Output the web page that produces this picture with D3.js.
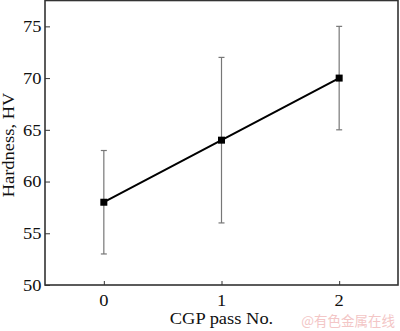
<!DOCTYPE html>
<html>
<head>
<meta charset="utf-8">
<script src="https://cdn.jsdelivr.net/npm/d3@7"></script>
<style>
  html, body { margin: 0; padding: 0; background: #fff; }
  svg { display: block; }
</style>
</head>
<body>
<svg id="chart" width="400" height="331"></svg>
<script>
// CGP pass number vs. hardness (mean with min/max error range)
const passes = [0, 1, 2];
const hardness = [58, 64, 70];
const errLow = [53, 56, 65];
const errHigh = [63, 72, 75];
const yTicks = [50, 55, 60, 65, 70, 75];
const xTicks = [0, 1, 2];

const svg = d3.select("#chart");
const plotL = 45, plotR = 398, plotT = 0.5, plotB = 285;
const font = "'Liberation Serif', 'Times New Roman', serif";
const fs = 16.5;       // label font size
const stretch = 1.12;  // slightly wide serif glyphs

const x = d3.scaleLinear().domain([-0.5, 2.5]).range([plotL, plotR]);
const y = d3.scaleLinear().domain([50, 77.5]).range([plotB, plotT]);

// place a serif label at (px, py), horizontally widened
function label(px, py, txt, anchor, rotate) {
  return svg.append("text")
    .attr("transform", `translate(${px},${py})` + (rotate ? ` rotate(${rotate})` : "") + ` scale(${stretch},1)`)
    .attr("text-anchor", anchor)
    .attr("font-family", font).attr("font-size", fs).attr("fill", "#111")
    .text(txt);
}

// frame
svg.append("rect")
  .attr("x", plotL).attr("y", plotT)
  .attr("width", plotR - plotL).attr("height", plotB - plotT)
  .attr("fill", "none").attr("stroke", "#333").attr("stroke-width", 1.6);

// y axis (inward ticks)
const yAxis = svg.append("g").attr("transform", `translate(${plotL},0)`)
  .call(d3.axisRight(y).tickValues(yTicks).tickSize(5).tickFormat(""));
yAxis.select(".domain").remove();
yAxis.selectAll("line").attr("stroke", "#333").attr("stroke-width", 1);
yTicks.forEach(t => label(plotL - 3.5, y(t) + 5.8, t, "end"));

// x axis (inward ticks)
const xAxis = svg.append("g").attr("transform", `translate(0,${plotB})`)
  .call(d3.axisTop(x).tickValues(xTicks).tickSize(4).tickFormat(""));
xAxis.select(".domain").remove();
xAxis.selectAll("line").attr("stroke", "#333").attr("stroke-width", 1);
xTicks.forEach(t => label(x(t), 305.5, t, "middle"));

// axis titles
label(14, 145, "Hardness, HV", "middle", -90);
label(x(1), 324, "CGP pass No.", "middle");

// error bars
const data = passes.map((p, i) => ({ p, v: hardness[i], lo: errLow[i], hi: errHigh[i] }));
const eb = svg.append("g").attr("stroke", "#777").attr("stroke-width", 1.2);
eb.selectAll(".bar").data(data).enter().append("line")
  .attr("x1", d => x(d.p)).attr("x2", d => x(d.p))
  .attr("y1", d => y(d.lo)).attr("y2", d => y(d.hi));
eb.selectAll(".capLo").data(data).enter().append("line")
  .attr("x1", d => x(d.p) - 3).attr("x2", d => x(d.p) + 3)
  .attr("y1", d => y(d.lo)).attr("y2", d => y(d.lo));
eb.selectAll(".capHi").data(data).enter().append("line")
  .attr("x1", d => x(d.p) - 3).attr("x2", d => x(d.p) + 3)
  .attr("y1", d => y(d.hi)).attr("y2", d => y(d.hi));

// mean line and markers
svg.append("path").datum(data)
  .attr("fill", "none").attr("stroke", "#000").attr("stroke-width", 2)
  .attr("d", d3.line().x(d => x(d.p)).y(d => y(d.v)));
svg.selectAll(".mk").data(data).enter().append("rect")
  .attr("x", d => x(d.p) - 3.5).attr("y", d => y(d.v) - 3.5)
  .attr("width", 7).attr("height", 7).attr("fill", "#000");

// watermark
svg.append("text")
  .attr("x", 395).attr("y", 326).attr("text-anchor", "end")
  .attr("font-family", "'Noto Sans CJK SC', sans-serif").attr("font-size", 13.5)
  .attr("fill", "#f3c6c6")
  .text("@有色金属在线");
</script>
</body>
</html>
